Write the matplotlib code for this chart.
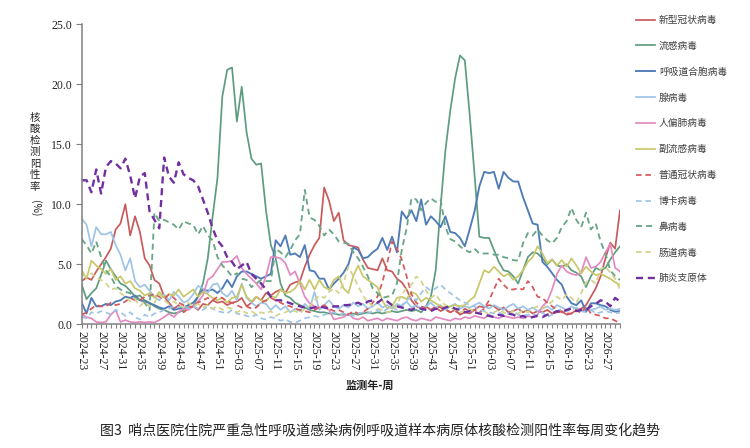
import matplotlib
matplotlib.use("Agg")
import matplotlib.pyplot as plt

# ---------------- data ----------------
start_year, start_week, n_weeks = 2024, 23, 112
weeks = []
yy, ww = start_year, start_week
for _ in range(n_weeks):
    weeks.append(f"{yy}-{ww:02d}")
    ww += 1
    if ww > 52:
        yy, ww = yy + 1, 1

covid = [3.6, 3.9, 3.7, 4.4, 5.0, 5.6, 6.3, 7.9, 8.4, 10.0,
         7.4, 9.0, 7.7, 5.5, 4.9, 3.7, 3.4, 2.3, 1.8, 1.3,
         1.6, 1.0, 1.3, 1.5, 1.2, 1.7, 1.6, 2.0, 1.8, 1.9,
         1.6, 1.8, 1.9, 2.2, 1.5, 1.8, 2.3, 2.0, 2.6, 2.4,
         2.7, 2.9, 2.6, 3.3, 3.5, 3.6, 4.8, 5.8, 6.6, 7.2,
         11.4, 10.3, 8.6, 9.3, 7.0, 6.6, 6.5, 6.4, 5.4, 4.7,
         4.6, 4.5, 5.5, 4.5, 4.4, 3.8, 3.5, 2.9, 2.0, 1.5,
         1.3, 1.5, 1.2, 1.4, 1.1, 1.3, 1.0, 1.2, 0.8, 1.0,
         0.9, 1.2, 1.5, 1.4, 1.6, 1.5, 1.2, 1.4, 1.0, 1.1,
         1.3, 1.0, 1.2, 0.9, 1.1, 1.0, 1.2, 0.9, 1.0, 1.1,
         0.8, 0.9, 1.2, 1.3, 1.6, 2.3, 3.0, 4.0, 5.5, 6.8,
         6.3, 9.5]

flu = [3.3, 2.1, 2.6, 3.0, 4.1, 5.3, 4.6, 4.0, 3.4, 3.2,
       2.8, 2.3, 2.4, 2.0, 1.8, 1.5, 1.3, 1.2, 1.0, 0.9,
       1.0, 1.2, 1.4, 1.5, 2.3, 3.4, 5.5, 9.0, 12.2, 19.0,
       21.2, 21.4, 16.9, 19.8, 16.0, 13.8, 13.3, 13.4, 9.5, 6.6,
       5.5, 3.4, 2.4, 2.2, 1.8, 1.6, 1.4, 1.2, 1.1, 1.0,
       1.0, 0.9, 0.9, 0.8, 0.8, 0.8, 0.9, 0.8, 0.9, 1.0,
       0.9, 1.0, 0.9, 1.0, 1.1, 1.0, 1.1, 1.2, 1.1, 1.2,
       1.0, 1.5, 2.3, 4.5, 9.8, 14.5, 17.8, 20.5, 22.4, 22.0,
       17.5, 12.5, 7.3, 7.2, 7.2, 6.2, 5.2, 4.5, 4.4, 4.0,
       3.4, 4.5, 5.6, 6.0, 5.9, 5.5, 5.0, 5.4, 4.9, 4.8,
       5.0, 4.5, 4.3, 4.0, 3.1, 4.0, 4.7, 4.5, 4.7, 5.4,
       6.0, 6.5]

rsv = [1.8, 0.9, 2.2, 1.5, 1.5, 1.7, 1.6, 1.9, 2.0, 2.3,
       2.2, 2.4, 2.0, 1.9, 1.75, 1.6, 1.4, 1.3, 1.5, 1.2,
       1.3, 1.4, 1.6, 1.8, 2.3, 2.9, 2.8, 2.9, 2.6, 3.0,
       3.7, 3.1, 4.0, 4.4, 4.4, 4.2, 4.0, 3.8, 4.0, 4.2,
       7.0, 6.5, 7.4, 5.8, 5.9, 5.6, 6.6, 4.5, 4.4, 3.8,
       3.8, 2.9, 3.4, 3.8, 4.3, 5.0, 6.4, 6.2, 5.5, 5.6,
       6.0, 6.3, 7.2, 6.2, 7.3, 6.0, 9.4, 8.8, 9.5, 8.6,
       10.4, 8.3, 9.0, 8.6, 8.1, 9.0, 7.7, 7.6, 7.2, 6.5,
       7.9, 9.4, 11.5, 12.7, 12.6, 12.7, 11.3, 12.7, 12.2, 11.9,
       11.9, 10.6, 9.5, 8.4, 8.3, 5.2, 4.8, 4.25, 3.7, 3.3,
       2.3, 1.75, 1.6, 2.0, 1.05, 1.75, 1.75, 1.6, 1.5, 1.2,
       1.05, 1.1]

adeno = [8.8, 8.3, 6.5, 8.1, 7.5, 7.5, 7.7, 6.6, 5.8, 4.5,
         5.5, 3.6, 3.1, 3.3, 2.8, 2.3, 2.0, 2.5, 2.0, 2.7,
         2.3, 1.8, 2.0, 2.5, 3.2, 3.0, 2.6, 3.3, 3.4, 2.6,
         2.3, 2.8, 2.0, 3.4, 2.2, 1.8, 1.5, 1.8, 1.7, 1.2,
         1.6, 1.2, 1.5, 1.0, 1.3, 1.1, 1.7, 1.3, 2.7, 1.2,
         1.6, 2.0, 1.5, 1.3, 1.6, 1.4, 1.8, 1.5, 1.7, 1.3,
         1.5, 1.8, 1.4, 1.6, 1.3, 1.7, 1.5, 1.9, 1.4, 1.6,
         1.3, 1.5, 1.8, 1.4, 1.6, 1.2, 1.5, 1.7, 1.3, 1.5,
         1.4, 1.6, 1.8, 1.5, 1.3, 1.6, 1.4, 1.2, 1.5, 1.7,
         1.3, 1.5, 1.2, 1.4, 1.1, 1.3, 1.5, 1.2, 1.6, 1.4,
         1.2, 1.5, 1.3, 1.1, 1.4, 1.2, 1.3, 1.5, 1.2, 1.3,
         1.2, 1.3]

hmpv = [0.8, 0.6, 0.5, 0.2, 0.15, 0.2, 0.8, 1.2, 0.2, 0.35,
        0.2, 0.15, 0.2, 0.15, 0.2, 0.15, 0.35, 0.6, 0.9, 0.6,
        1.05, 1.3, 1.2, 1.5, 1.9, 2.4, 3.7, 4.0, 4.6, 5.2,
        5.2, 5.3, 5.7, 4.7, 4.2, 3.8, 3.4, 2.9, 4.0, 5.6,
        5.6, 5.5, 5.1, 4.1, 4.4, 3.4, 2.3, 1.75, 1.5, 1.4,
        1.5, 1.2, 0.4, 0.5, 0.6, 0.9, 0.5, 0.4, 0.6, 0.3,
        0.4, 0.5, 0.3, 0.5, 0.4, 0.3, 0.5, 0.6, 0.4, 0.3,
        0.5, 0.4, 0.3, 0.6, 0.5, 0.4, 0.3, 0.5, 0.4, 0.6,
        0.5, 0.7, 0.6, 0.5, 0.8, 0.6, 0.5, 0.7, 0.6, 0.5,
        0.6, 0.5, 0.7, 0.6, 0.8, 1.5, 1.9, 2.9, 4.2, 4.9,
        4.4, 4.2, 4.1, 4.3, 5.6, 4.7, 4.8, 5.2, 6.0, 6.7,
        4.7, 4.4]

piv = [4.5, 3.8, 5.3, 4.9, 4.6, 4.2, 4.6, 3.7, 4.0, 3.4,
       3.6, 3.0, 2.8, 2.4, 2.6, 2.2, 2.7, 2.2, 2.5, 2.4,
       2.9, 2.3, 2.6, 2.9, 2.3, 2.7, 2.5, 2.2, 2.0, 2.2,
       1.8, 2.2, 2.3, 3.3, 2.3, 1.9, 2.3, 2.0, 1.9, 2.4,
       2.2, 2.9, 2.6, 2.7, 3.0, 3.6, 2.9, 3.7, 2.9, 3.7,
       3.1, 2.9, 3.7, 4.0, 3.0, 2.6, 4.0, 4.9, 4.0, 3.7,
       3.4, 3.1, 2.0, 1.3, 1.5, 2.2, 2.3, 2.1, 2.7, 2.5,
       1.9, 2.2, 2.0, 1.75, 1.5, 1.4, 1.5, 1.6, 1.5, 1.6,
       2.0, 2.3, 3.4, 4.5, 4.3, 4.8, 4.4, 4.0, 4.2, 3.7,
       4.0, 4.5, 5.2, 5.6, 6.5, 5.9, 5.1, 5.4, 4.9, 5.35,
       4.8, 5.5, 4.9, 4.25, 4.8, 4.4, 4.1, 4.2, 4.0, 3.8,
       3.5, 3.3]

hcov = [0.8, 1.0, 1.3, 1.6, 1.5, 1.5, 1.8, 1.6, 1.7, 1.9,
        2.2, 2.0, 2.0, 2.3, 2.4, 2.5, 2.3, 2.1, 2.5, 2.2,
        1.8, 1.6, 1.4, 1.5, 1.8, 2.0, 2.2, 2.0, 2.3, 2.2,
        1.9, 1.8, 1.6, 1.4, 1.5, 1.3, 1.4, 1.8, 2.0, 2.2,
        2.0, 1.8, 1.6, 1.5, 1.3, 1.2, 1.1, 1.0, 1.2, 1.4,
        1.6, 1.3, 1.1, 1.2, 1.0, 0.8, 1.1, 0.9, 1.0, 1.3,
        1.8, 2.3, 3.5, 5.1, 6.9, 6.3, 5.4, 4.0, 2.5, 1.8,
        1.5, 1.3, 1.2, 1.5, 1.4, 1.2, 1.0, 1.1, 0.9, 1.3,
        1.1, 1.2, 1.0, 1.3, 2.0, 2.9, 3.8, 3.3, 2.9, 2.9,
        3.0, 2.9, 3.6, 3.1, 2.3, 2.2, 1.8, 1.5, 1.2, 1.0,
        0.9, 0.9, 1.2, 0.9, 1.5, 0.9, 0.8, 0.7, 0.5, 0.5,
        0.3, 0.1]

boca = [0.6, 0.5, 1.0, 0.9, 1.1, 1.0, 0.8, 1.2, 1.0, 0.7,
        1.0, 0.6, 0.4, 0.8, 0.6, 0.9, 1.0, 1.2, 1.3, 1.5,
        1.4, 1.6, 1.3, 1.5, 1.3, 1.2, 1.5, 1.3, 1.1, 1.0,
        0.9, 1.2, 0.9, 0.8, 0.7, 0.6, 0.8, 0.5, 0.4, 0.6,
        0.5, 0.3, 0.4, 0.2, 0.15, 0.3, 0.5, 0.6, 0.7, 0.6,
        0.8, 0.9, 1.0, 0.8, 0.9, 0.8, 0.7, 0.9, 1.0, 0.9,
        1.1, 1.2, 1.0, 1.3, 1.4, 1.2, 1.6, 2.0, 2.3, 2.0,
        2.6, 3.1, 2.8, 3.0, 3.3, 2.9, 2.6, 2.3, 2.0, 1.8,
        1.6, 1.5, 1.2, 1.1, 1.0, 0.9, 1.0, 0.8, 0.9, 1.1,
        0.8, 0.7, 0.8, 0.9, 0.7, 1.0, 0.6, 0.8, 1.1, 1.3,
        1.1, 1.2, 1.4, 1.1, 1.0, 1.2, 0.9, 1.0, 1.1, 1.0,
        0.9, 1.0]

rhino = [7.1, 6.6, 5.9, 6.9, 5.6, 4.5, 4.0, 3.2, 2.9, 2.7,
         2.6, 2.2, 2.0, 1.8, 1.2, 9.3, 8.6, 8.7, 8.5, 8.3,
         7.9, 8.6, 8.4, 8.3, 7.5, 8.2, 7.4, 7.0, 5.6, 4.9,
         4.5, 4.0, 4.25, 3.8, 3.7, 3.1, 3.4, 3.7, 3.6, 3.6,
         6.3, 6.0, 5.6, 6.2, 7.0, 7.5, 11.2, 8.9, 8.7, 8.2,
         7.4, 7.9, 7.5, 6.9, 6.8, 6.7, 6.0, 5.5, 4.8, 4.0,
         3.0, 2.6, 2.2, 2.3, 2.4, 3.4, 6.2, 8.0, 10.5, 10.4,
         9.5, 10.1, 10.5, 10.2, 10.4, 8.1, 7.1, 6.9, 6.5, 6.2,
         6.0, 6.3, 5.9, 5.9, 5.9, 5.8, 5.8, 5.6, 5.5, 5.35,
         5.3, 6.75, 7.6, 7.4, 7.9, 7.4, 7.0, 6.75, 7.2, 8.1,
         8.6, 9.7, 8.7, 8.1, 9.3, 7.9, 8.4, 6.9, 5.9, 4.5,
         4.0, 3.7]

entero = [4.1, 4.0, 4.25, 3.9, 3.7, 3.4, 2.9, 3.0, 2.6, 2.3,
          1.9, 2.1, 1.5, 1.9, 1.5, 1.8, 2.5, 2.0, 1.7, 1.9,
          1.6, 1.4, 1.8, 1.5, 1.7, 1.4, 1.6, 1.3, 1.5, 1.2,
          1.4, 1.3, 1.0, 1.2, 0.9, 1.1, 0.8, 1.0, 0.9, 1.1,
          0.7, 0.9, 1.0, 1.2, 1.1, 0.9, 1.3, 1.5, 2.0, 2.4,
          2.2, 2.7, 3.0, 2.6, 3.5, 4.8, 4.0, 3.2, 2.4, 1.8,
          1.6, 1.3, 1.2, 1.0, 1.1, 1.6, 2.5, 3.0, 3.3, 4.0,
          3.6, 2.8, 2.2, 2.5, 1.9, 1.6, 1.4, 1.2, 1.0, 1.1,
          1.3, 1.0, 0.9, 1.1, 0.8, 1.0, 1.2, 1.0, 0.8, 1.1,
          0.9, 1.2, 1.0, 1.3, 1.5, 1.3, 1.6, 1.9, 2.3, 2.0,
          2.5, 2.2, 1.8, 2.6, 3.5, 3.7, 3.4, 4.6, 4.8, 4.3,
          3.8, 2.9]

myco = [12.0, 12.0, 11.0, 12.9, 10.9, 13.1, 13.6, 13.4, 13.0, 13.8,
        12.4, 10.5, 12.3, 12.6, 9.4, 8.7, 8.0, 13.9, 12.3, 11.8,
        13.5, 12.5, 12.2, 12.0, 11.5, 10.4, 9.3, 8.0, 7.0, 6.5,
        5.6, 5.2, 4.6, 4.9, 5.2, 4.2, 3.8, 3.4, 2.9, 2.3,
        2.0, 2.0, 1.9, 1.75, 1.6, 1.5, 1.4, 1.35, 1.4, 1.5,
        1.4, 1.3, 1.5, 1.5, 1.6, 1.6, 1.7, 1.8, 1.6, 1.9,
        2.0, 1.8, 2.1, 1.9, 1.6, 1.5, 1.4, 1.3, 1.2, 1.4,
        1.3, 1.2, 1.1, 1.3, 1.2, 1.4, 1.5, 1.3, 1.2, 1.0,
        1.1, 1.0, 0.9, 0.8, 0.7, 0.6, 0.8, 0.7, 0.9, 0.8,
        0.6, 0.7, 0.5, 0.6, 0.7, 0.6, 0.8, 0.9, 1.1, 1.0,
        1.2, 1.3, 1.1, 1.2, 1.2, 1.5, 1.7, 2.0, 1.9, 1.5,
        2.2, 1.9]

series_names = ["新型冠状病毒", "流感病毒", "呼吸道合胞病毒", "腺病毒", "人偏肺病毒",
                "副流感病毒", "普通冠状病毒", "博卡病毒", "鼻病毒", "肠道病毒", "肺炎支原体"]
series_values = [covid, flu, rsv, adeno, hmpv, piv, hcov, boca, rhino, entero, myco]

# ---------------- style ----------------
colors = ["#C95A5C", "#5E9C7F", "#4F7CB6", "#9EC4E6", "#E28BC1",
          "#C8C86A", "#D6585A", "#9EC4E6", "#6AA687", "#D4D38A", "#7030A0"]
dash = (0, (3.2, 2.2))
styles = ["-", "-", "-", "-", "-", "-", dash, dash, dash, dash, (0, (3.0, 2.0))]
widths = [1.25, 1.25, 1.35, 1.25, 1.25, 1.25, 1.25, 1.25, 1.35, 1.25, 1.7]

cjk = ["Noto Sans CJK SC", "DejaVu Sans"]
serif = ["Liberation Serif", "DejaVu Serif"]

W, H = 750, 448
fig = plt.figure(figsize=(W / 100, H / 100), dpi=100)
x0, x1, y0, y1 = 81.7, 620.0, 324.3, 24.3
ax = fig.add_axes([x0 / W, 1 - y0 / H, (x1 - x0) / W, (y0 - y1) / H])

xs = list(range(n_weeks))
for name, vals, c, ls, lw in zip(series_names, series_values, colors, styles, widths):
    ax.plot(xs, vals, color=c, linestyle=ls, linewidth=lw, label=name,
            solid_joinstyle="round", dash_capstyle="butt")

ax.set_xlim(0, n_weeks - 1)
ax.set_ylim(0, 25)
ax.set_yticks([0, 5, 10, 15, 20, 25])
ax.set_yticklabels([f"{v:.1f}" for v in [0, 5, 10, 15, 20, 25]],
                   fontfamily=serif, fontsize=8.5, color="#222222")
ax.set_xticks(xs[::4])
ax.set_xticklabels(weeks[::4], rotation=-90, fontfamily=serif, fontsize=8.5,
                   color="#222222", va="top", ha="center")
ax.set_xticks(xs, minor=True)
ax.tick_params(axis="x", which="both", direction="out", length=3, width=0.8,
               color="#808080", pad=2)
ax.tick_params(axis="y", which="major", direction="out", length=4, width=0.8,
               color="#808080", pad=3)
for s in ["top", "right"]:
    ax.spines[s].set_visible(False)
for s in ["left", "bottom"]:
    ax.spines[s].set_color("#808080")
    ax.spines[s].set_linewidth(1.1)

# vertical y-axis label
ylab_chars = list("核酸检测阳性率")
ylab_y = [118, 129, 141, 152, 164, 175, 187]
for ch, py in zip(ylab_chars, ylab_y):
    fig.text(35 / W, 1 - py / H, ch, fontfamily=cjk, fontsize=7.5,
             ha="center", va="center", color="#222222")
fig.text(35 / W, 1 - 208 / H, "(%)", fontfamily=cjk, fontsize=7.5, rotation=-90,
         ha="center", va="center", color="#222222")

fig.text(370 / W, 1 - 385 / H, "监测年-周", fontfamily=cjk, fontsize=8,
         fontweight="bold", ha="center", va="center", color="#222222")
fig.text(380 / W, 1 - 430 / H,
         "图3  哨点医院住院严重急性呼吸道感染病例呼吸道样本病原体核酸检测阳性率每周变化趋势",
         fontfamily=cjk, fontsize=10.1, ha="center", va="center", color="#222222")

leg = ax.legend(loc="upper left", bbox_to_anchor=(636 / W, 1 - 15 / H),
                bbox_transform=fig.transFigure, frameon=False, borderpad=0,
                borderaxespad=0, handlelength=2.0, handletextpad=0.35,
                labelspacing=1.63, prop={"family": cjk, "size": 7})
for t in leg.get_texts():
    t.set_color("#404040")

fig.savefig("out.png", dpi=100)
